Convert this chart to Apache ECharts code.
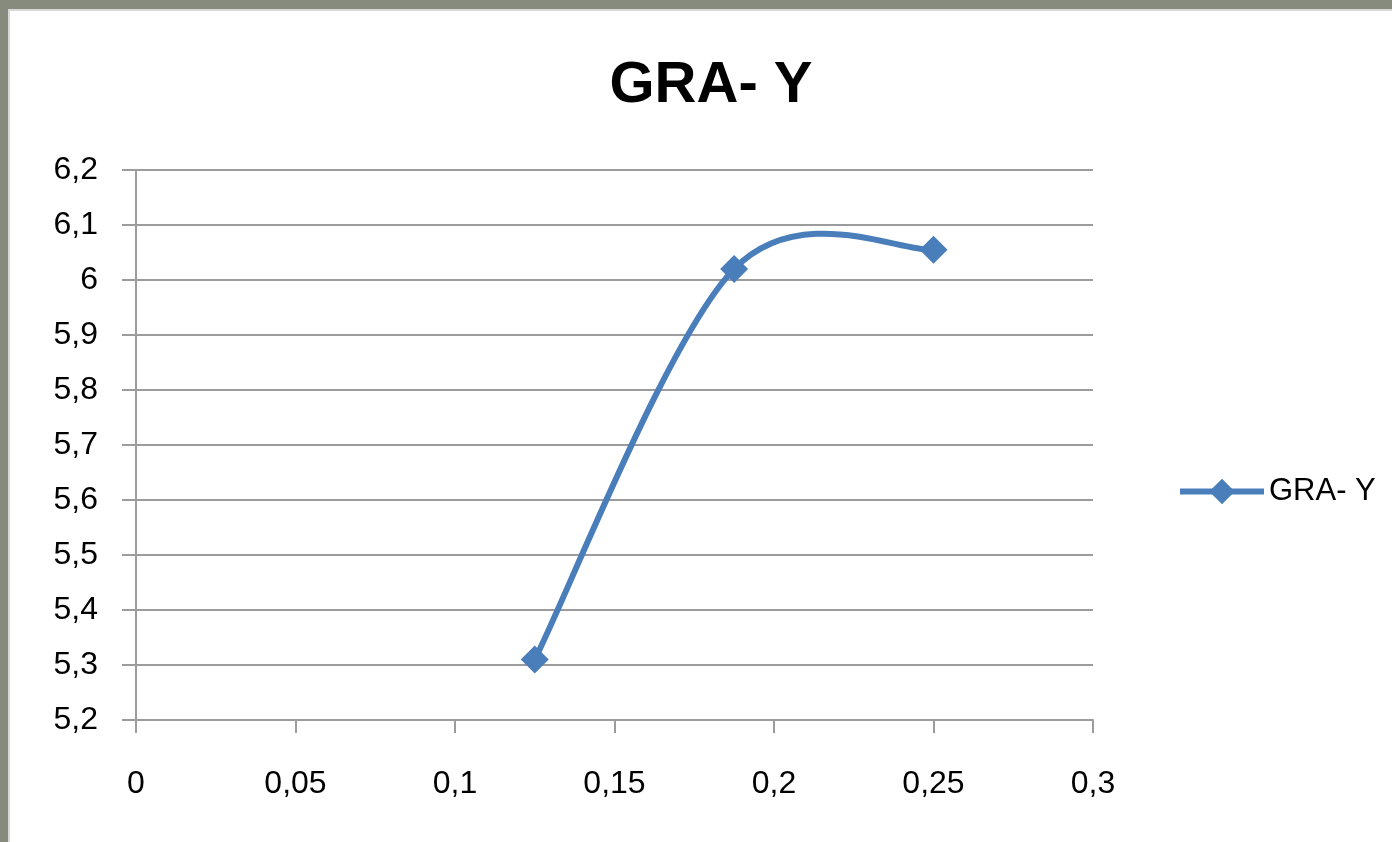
<!DOCTYPE html>
<html>
<head>
<meta charset="utf-8">
<script src="https://cdn.jsdelivr.net/npm/echarts@6/dist/echarts.min.js"></script>
<style>
  html, body { margin: 0; padding: 0; background: #ffffff; }
  #chart { width: 1392px; height: 842px; }
</style>
</head>
<body>
<div id="chart"></div>
<script>
// GRA- Y measurements
const seriesName = 'GRA- Y';
const xValues = [0.125, 0.1875, 0.25];
const yValues = [5.31, 6.02, 6.055];

const xTicks = { min: 0, max: 0.3, interval: 0.05 };
const yTicks = { min: 5.2, max: 6.2, interval: 0.1 };

const blue = '#4a7ebb';
const gridGray = '#9c9c9c';
const frame = '#878b7e';

// decimal comma formatting
function comma(v) {
  const r = Math.round(v * 1000) / 1000;
  return String(r).replace('.', ',');
}

const points = xValues.map((x, i) => [x, yValues[i]]);

// Catmull-Rom style smoothing (spreadsheet "smoothed line"), built in pixel space
// from the axis-mapped data points.
function smoothPath(api) {
  const p = points.map(d => api.coord(d));
  const n = p.length;
  let d = 'M' + p[0][0] + ' ' + p[0][1];
  for (let i = 0; i < n - 1; i++) {
    const p0 = p[Math.max(i - 1, 0)];
    const p1 = p[i];
    const p2 = p[i + 1];
    const p3 = p[Math.min(i + 2, n - 1)];
    const c1x = p1[0] + (p2[0] - p0[0]) / 6;
    const c1y = p1[1] + (p2[1] - p0[1]) / 6;
    const c2x = p2[0] - (p3[0] - p1[0]) / 6;
    const c2y = p2[1] - (p3[1] - p1[1]) / 6;
    d += ' C' + c1x + ' ' + c1y + ' ' + c2x + ' ' + c2y + ' ' + p2[0] + ' ' + p2[1];
  }
  return d;
}

const chart = echarts.init(document.getElementById('chart'), null, { renderer: 'canvas' });

chart.setOption({
  backgroundColor: '#ffffff',
  animation: false,
  title: {
    text: 'GRA- Y',
    left: 706,
    textAlign: 'center',
    top: 52,
    textStyle: { fontFamily: 'Liberation Sans', fontWeight: 'bold', fontSize: 58, color: '#000000' }
  },
  legend: {
    data: [seriesName],
    left: 1172,
    top: 471,
    itemWidth: 84,
    itemHeight: 32,
    itemGap: 6,
    lineStyle: { color: blue, width: 6, opacity: 1 },
    textStyle: { fontFamily: 'Liberation Sans', fontSize: 31, color: '#000000' }
  },
  grid: { left: 136, right: 299, top: 170, bottom: 122, containLabel: false },
  xAxis: {
    type: 'value',
    min: xTicks.min, max: xTicks.max, interval: xTicks.interval,
    axisLine: { show: true, lineStyle: { color: gridGray, width: 2 } },
    axisTick: { show: true, length: 13, lineStyle: { color: gridGray, width: 2 } },
    splitLine: { show: false },
    axisLabel: {
      margin: 48,
      formatter: comma,
      fontFamily: 'Liberation Sans', fontSize: 32, color: '#000000'
    }
  },
  yAxis: {
    type: 'value',
    min: yTicks.min, max: yTicks.max, interval: yTicks.interval,
    axisLine: { show: true, lineStyle: { color: gridGray, width: 2 } },
    axisTick: { show: true, length: 14, lineStyle: { color: gridGray, width: 2 } },
    splitLine: { show: true, lineStyle: { color: gridGray, width: 2 } },
    axisLabel: {
      margin: 38,
      formatter: comma,
      fontFamily: 'Liberation Sans', fontSize: 32, color: '#000000'
    }
  },
  series: [
    {
      // smoothed curve through the data
      name: 'curve',
      type: 'custom',
      data: points,
      z: 2,
      silent: true,
      renderItem: function (params, api) {
        if (params.dataIndex !== 0) return null;
        return {
          type: 'path',
          shape: { pathData: smoothPath(api) },
          style: { stroke: blue, lineWidth: 6, fill: null, lineCap: 'round', lineJoin: 'round' }
        };
      }
    },
    {
      // diamond markers
      name: seriesName,
      type: 'line',
      data: points,
      z: 3,
      symbol: 'diamond',
      symbolSize: 28,
      showAllSymbol: true,
      lineStyle: { color: blue, width: 6, opacity: 0 },
      itemStyle: { color: blue }
    }
  ],
  graphic: [
    { type: 'rect', left: 0, top: 0, shape: { width: 1392, height: 9 }, style: { fill: frame }, z: 100 },
    { type: 'rect', left: 0, top: 9, shape: { width: 1392, height: 2 }, style: { fill: '#d8d8d8' }, z: 100 },
    { type: 'rect', left: 0, top: 0, shape: { width: 8, height: 842 }, style: { fill: frame }, z: 100 },
    { type: 'rect', left: 8, top: 9, shape: { width: 2, height: 833 }, style: { fill: '#d8d8d8' }, z: 100 }
  ]
});
</script>
</body>
</html>
